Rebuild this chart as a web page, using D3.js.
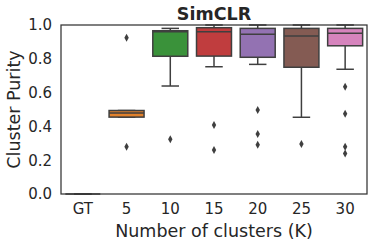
<!DOCTYPE html>
<html><head><meta charset="utf-8">
<script src="https://cdn.jsdelivr.net/npm/d3@7"></script>
<style>html,body{margin:0;padding:0;background:#fff;}svg{display:block;}</style>
</head><body>
<script>
const categories = ["GT","5","10","15","20","25","30"];
const colors = ["#3274a1","#e1812c","#3a923a","#c03d3e","#9372b2","#845b53","#d684bd"];
const q1 =       [0, 0.455, 0.815, 0.816, 0.809, 0.750, 0.877];
const median =   [0, 0.480, 0.960, 0.960, 0.945, 0.935, 0.951];
const q3 =       [0, 0.494, 0.966, 0.984, 0.980, 0.980, 0.980];
const whiskLo =  [0, 0.455, 0.639, 0.753, 0.767, 0.454, 0.738];
const whiskHi =  [0, 0.494, 0.980, 1.000, 1.000, 1.000, 1.000];
const outliers = [[], [0.925, 0.28], [0.324], [0.408, 0.26], [0.497, 0.355, 0.292], [0.296], [0.635, 0.475, 0.28, 0.24]];
const yTicks = [0.0, 0.2, 0.4, 0.6, 0.8, 1.0];

const W = 374, H = 246;
const m = {l: 61, r: 7, t: 25, b: 52};
const svg = d3.select("body").append("svg").attr("width", W).attr("height", H);
const x = d3.scaleBand().domain(categories).range([m.l, W - m.r]).paddingInner(0).paddingOuter(0);
const y = d3.scaleLinear().domain([0, 1]).range([H - m.b, m.t]);
const font = "DejaVu Sans, sans-serif";
const gray = "#3f3f3f";

// axes
const yAx = svg.append("g").attr("transform", `translate(${m.l},0)`)
  .call(d3.axisLeft(y).tickValues(yTicks).tickFormat(d3.format(".1f")).tickSize(0).tickPadding(9));
const xAx = svg.append("g").attr("transform", `translate(0,${H - m.b})`)
  .call(d3.axisBottom(x).tickSize(0).tickPadding(9));
[yAx, xAx].forEach(g => {
  g.select(".domain").remove();
  g.selectAll("text").attr("font-family", font).attr("font-size", 15).attr("fill", "#262626");
});

const bw = x.bandwidth() * 0.8;
const g = svg.append("g");
categories.forEach((c, i) => {
  const cx = x(c) + x.bandwidth() / 2;
  // whiskers
  g.append("line").attr("x1", cx).attr("x2", cx).attr("y1", y(q1[i])).attr("y2", y(whiskLo[i]))
    .attr("stroke", gray).attr("stroke-width", 1.5);
  g.append("line").attr("x1", cx).attr("x2", cx).attr("y1", y(q3[i])).attr("y2", y(whiskHi[i]))
    .attr("stroke", gray).attr("stroke-width", 1.5);
  [whiskLo[i], whiskHi[i]].forEach(v => {
    g.append("line").attr("x1", cx - bw / 4).attr("x2", cx + bw / 4).attr("y1", y(v)).attr("y2", y(v))
      .attr("stroke", gray).attr("stroke-width", 1.5);
  });
  // box
  g.append("rect").attr("x", cx - bw / 2).attr("width", bw)
    .attr("y", y(q3[i])).attr("height", Math.max(0, y(q1[i]) - y(q3[i])))
    .attr("fill", colors[i]).attr("stroke", gray).attr("stroke-width", 1.5);
  // median
  g.append("line").attr("x1", cx - bw / 2).attr("x2", cx + bw / 2).attr("y1", y(median[i])).attr("y2", y(median[i]))
    .attr("stroke", gray).attr("stroke-width", 1.5);
  // outliers
  outliers[i].forEach(v => {
    g.append("path").attr("d", `M${cx},${y(v) - 4}L${cx + 2.2},${y(v)}L${cx},${y(v) + 4}L${cx - 2.2},${y(v)}Z`)
      .attr("fill", gray);
  });
});

// frame
svg.append("rect").attr("x", m.l).attr("y", m.t).attr("width", W - m.r - m.l).attr("height", H - m.b - m.t)
  .attr("fill", "none").attr("stroke", "#333").attr("stroke-width", 1.25);

// labels
svg.append("text").attr("x", (m.l + W - m.r) / 2).attr("y", 20).attr("text-anchor", "middle")
  .attr("font-family", font).attr("font-weight", "bold").attr("font-size", 17.5).attr("fill", "#262626").text("SimCLR");
svg.append("text").attr("x", (m.l + W - m.r) / 2).attr("y", 237).attr("text-anchor", "middle")
  .attr("font-family", font).attr("font-size", 17.5).attr("fill", "#262626").text("Number of clusters (K)");
svg.append("text").attr("transform", `translate(20,${(m.t + H - m.b) / 2}) rotate(-90)`).attr("text-anchor", "middle")
  .attr("font-family", font).attr("font-size", 17.5).attr("fill", "#262626").text("Cluster Purity");
</script>
</body></html>
